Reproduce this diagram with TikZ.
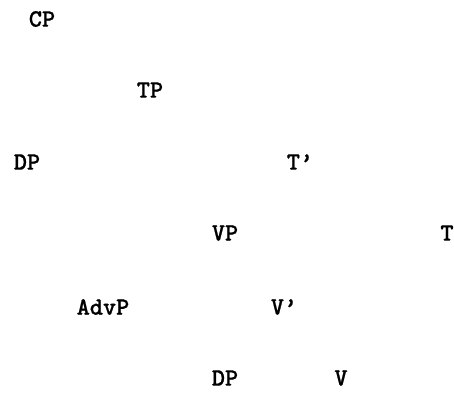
\documentclass[tikz,border=0pt]{standalone}
\usepackage{fontspec}
\newfontfamily\lblfont{Latin Modern Mono Light}[BoldFeatures={FakeBold=0.8}]
\begin{document}
\begin{tikzpicture}[x=1pt,y=-1pt,
  lbl/.style={inner sep=0pt,font=\fontsize{25}{25}\selectfont\lblfont\bfseries}]
\useasboundingbox (0,0) rectangle (454,394);
\node[lbl] (cp) at (42,19) {CP};
\node[lbl] (tp) at (150,90) {TP};
\node[lbl] (dp1) at (27,162) {DP};
\node[lbl] (tbar) at (300,162) {T’};
\node[lbl] (vp) at (225,233) {VP};
\node[lbl] (t) at (447,233) {T};
\node[lbl] (advp) at (103,307) {AdvP};
\node[lbl] (vbar) at (284,307) {V’};
\node[lbl] (dp2) at (225,378) {DP};
\node[lbl] (v) at (341,378) {V};
\end{tikzpicture}
\end{document}
